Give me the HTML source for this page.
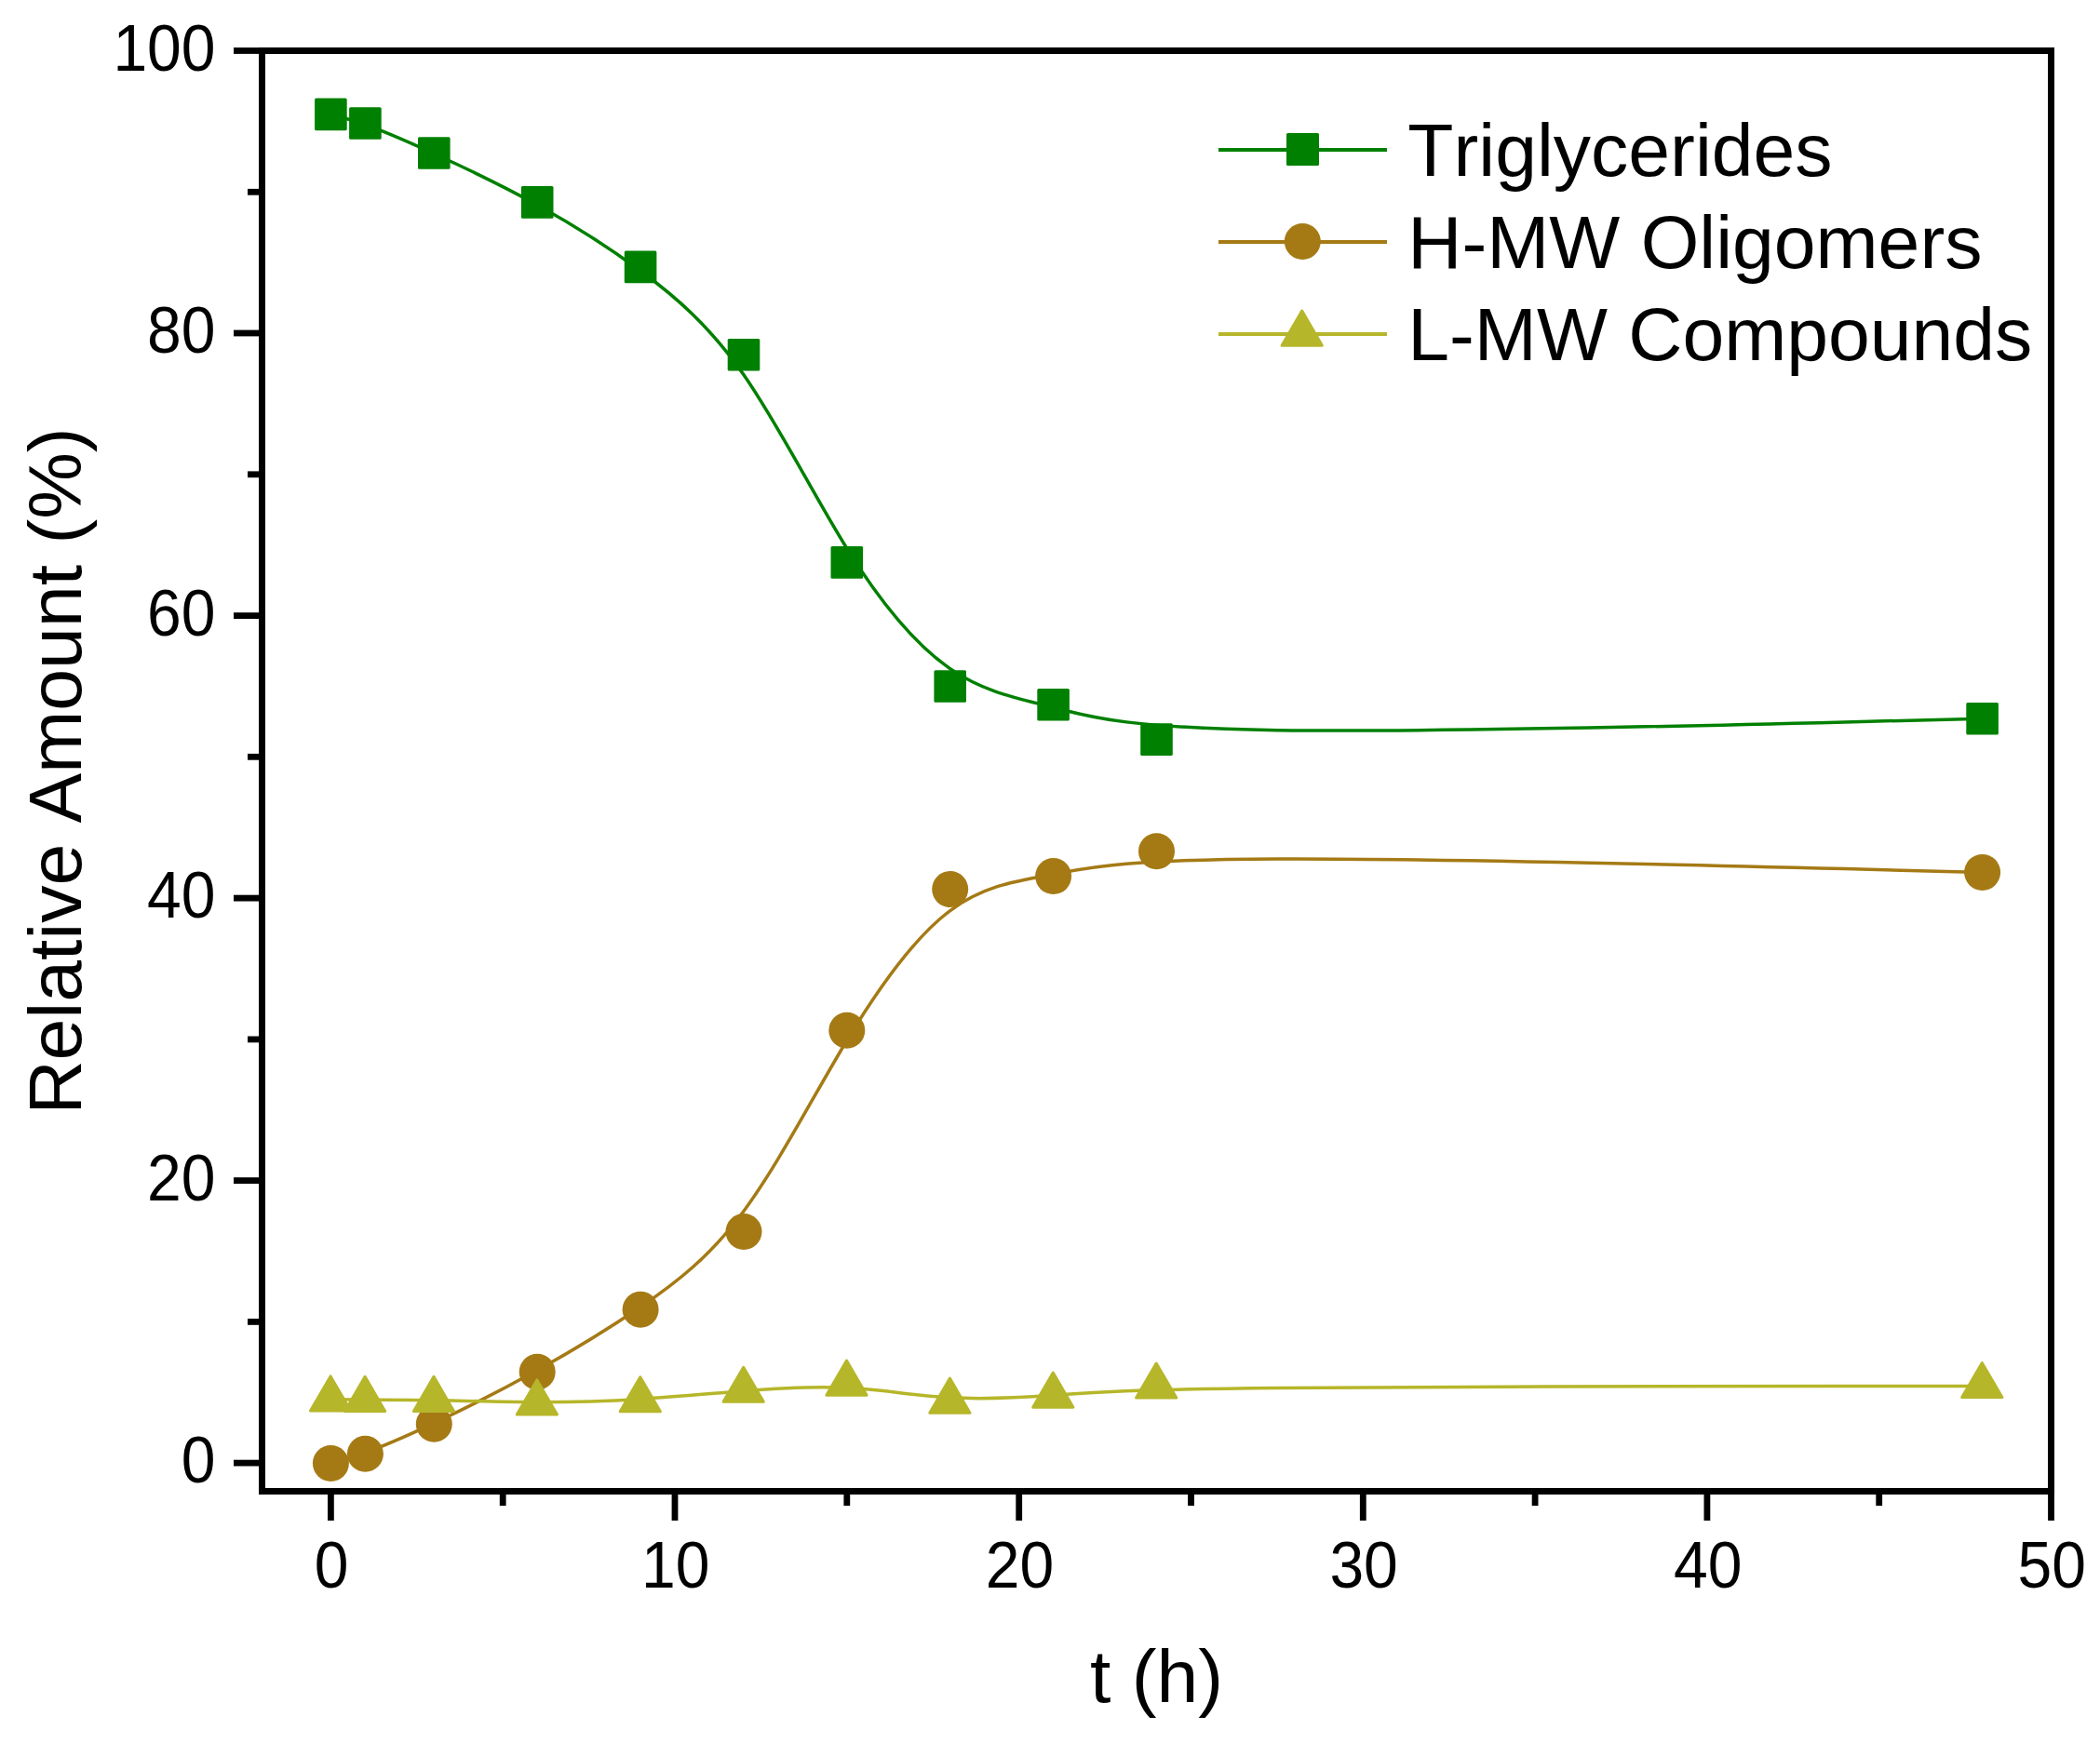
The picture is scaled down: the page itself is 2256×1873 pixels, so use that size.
<!DOCTYPE html>
<html lang="en"><head><meta charset="utf-8"><title>Relative Amount vs t</title>
<style>html,body{margin:0;padding:0;background:#fff}body{width:2256px;height:1873px;overflow:hidden}svg{display:block}text{font-family:"Liberation Sans", Arial, sans-serif;fill:#000;font-kerning:none;letter-spacing:0}</style></head><body>
<svg width="2256" height="1873" viewBox="0 0 2256 1873">
<rect width="2256" height="1873" fill="#fff"/>
<path d="M355.42 122.90 C355.42 122.90 355.42 122.90 361.58 124.50 C367.74 126.10 380.06 129.30 398.54 136.23 C417.03 143.17 441.67 153.83 472.47 167.98 C503.27 182.13 540.23 199.77 577.19 220.17 C614.15 240.57 651.12 263.73 688.08 291.03 C725.04 318.33 762.00 349.77 798.96 402.68 C835.92 455.60 872.88 530.00 909.85 589.38 C946.81 648.77 983.77 693.13 1020.73 718.60 C1057.69 744.07 1094.65 750.63 1131.62 760.15 C1168.58 769.67 1205.54 782.13 1371.87 784.63 C1538.19 787.13 1833.88 779.67 1981.73 775.93 C2129.58 772.20 2129.58 772.20 2129.58 772.20" fill="none" stroke="#008000" stroke-width="3.5" stroke-linecap="round" stroke-linejoin="round"/>
<rect x="338.1" y="105.6" width="34.6" height="34.6" rx="1.5" fill="#008000"/>
<rect x="375.1" y="115.2" width="34.6" height="34.6" rx="1.5" fill="#008000"/>
<rect x="449.0" y="147.2" width="34.6" height="34.6" rx="1.5" fill="#008000"/>
<rect x="559.9" y="200.1" width="34.6" height="34.6" rx="1.5" fill="#008000"/>
<rect x="670.8" y="269.6" width="34.6" height="34.6" rx="1.5" fill="#008000"/>
<rect x="781.7" y="363.9" width="34.6" height="34.6" rx="1.5" fill="#008000"/>
<rect x="892.5" y="587.1" width="34.6" height="34.6" rx="1.5" fill="#008000"/>
<rect x="1003.4" y="720.2" width="34.6" height="34.6" rx="1.5" fill="#008000"/>
<rect x="1114.3" y="739.9" width="34.6" height="34.6" rx="1.5" fill="#008000"/>
<rect x="1225.2" y="777.3" width="34.6" height="34.6" rx="1.5" fill="#008000"/>
<rect x="2112.3" y="754.9" width="34.6" height="34.6" rx="1.5" fill="#008000"/>
<path d="M355.42 1572.50 C355.42 1572.50 355.42 1572.50 361.58 1570.80 C367.74 1569.10 380.06 1565.70 398.54 1558.67 C417.03 1551.63 441.67 1540.97 472.47 1526.30 C503.27 1511.63 540.23 1492.97 577.19 1472.47 C614.15 1451.97 651.12 1429.63 688.08 1404.50 C725.04 1379.37 762.00 1351.43 798.96 1301.42 C835.92 1251.40 872.88 1179.30 909.85 1117.98 C946.81 1056.67 983.77 1006.13 1020.73 978.53 C1057.69 950.93 1094.65 946.27 1131.62 939.45 C1168.58 932.63 1205.54 923.67 1371.87 922.97 C1538.19 922.27 1833.88 929.83 1981.73 933.62 C2129.58 937.40 2129.58 937.40 2129.58 937.40" fill="none" stroke="#a57a15" stroke-width="3.5" stroke-linecap="round" stroke-linejoin="round"/>
<circle cx="355.4" cy="1572.5" r="19.5" fill="#a57a15"/>
<circle cx="392.4" cy="1562.3" r="19.5" fill="#a57a15"/>
<circle cx="466.3" cy="1530.3" r="19.5" fill="#a57a15"/>
<circle cx="577.2" cy="1474.3" r="19.5" fill="#a57a15"/>
<circle cx="688.1" cy="1407.3" r="19.5" fill="#a57a15"/>
<circle cx="799.0" cy="1323.5" r="19.5" fill="#a57a15"/>
<circle cx="909.8" cy="1107.2" r="19.5" fill="#a57a15"/>
<circle cx="1020.7" cy="955.6" r="19.5" fill="#a57a15"/>
<circle cx="1131.6" cy="941.6" r="19.5" fill="#a57a15"/>
<circle cx="1242.5" cy="914.7" r="19.5" fill="#a57a15"/>
<circle cx="2129.6" cy="937.4" r="19.5" fill="#a57a15"/>
<path d="M355.42 1503.80 C355.42 1503.80 355.42 1503.80 361.58 1503.87 C367.74 1503.93 380.06 1504.07 398.54 1504.13 C417.03 1504.20 441.67 1504.20 472.47 1504.80 C503.27 1505.40 540.23 1506.60 577.19 1506.67 C614.15 1506.73 651.12 1505.67 688.08 1503.38 C725.04 1501.10 762.00 1497.60 798.96 1494.67 C835.92 1491.73 872.88 1489.37 909.85 1491.35 C946.81 1493.33 983.77 1499.67 1020.73 1501.83 C1057.69 1504.00 1094.65 1502.00 1131.62 1499.32 C1168.58 1496.63 1205.54 1493.27 1371.87 1491.50 C1538.19 1489.73 1833.88 1489.57 1981.73 1489.48 C2129.58 1489.40 2129.58 1489.40 2129.58 1489.40" fill="none" stroke="#b6b62a" stroke-width="3.5" stroke-linecap="round" stroke-linejoin="round"/>
<path d="M355.1 1478.9 L376.7 1516.0 L333.5 1516.0 Z" fill="#b6b62a" stroke="#b6b62a" stroke-width="3" stroke-linejoin="round"/>
<path d="M392.1 1479.3 L413.7 1516.4 L370.5 1516.4 Z" fill="#b6b62a" stroke="#b6b62a" stroke-width="3" stroke-linejoin="round"/>
<path d="M466.0 1479.3 L487.6 1516.4 L444.4 1516.4 Z" fill="#b6b62a" stroke="#b6b62a" stroke-width="3" stroke-linejoin="round"/>
<path d="M576.9 1482.9 L598.5 1520.0 L555.3 1520.0 Z" fill="#b6b62a" stroke="#b6b62a" stroke-width="3" stroke-linejoin="round"/>
<path d="M687.8 1479.7 L709.4 1516.8 L666.2 1516.8 Z" fill="#b6b62a" stroke="#b6b62a" stroke-width="3" stroke-linejoin="round"/>
<path d="M798.7 1469.2 L820.3 1506.3 L777.1 1506.3 Z" fill="#b6b62a" stroke="#b6b62a" stroke-width="3" stroke-linejoin="round"/>
<path d="M909.5 1462.1 L931.1 1499.2 L887.9 1499.2 Z" fill="#b6b62a" stroke="#b6b62a" stroke-width="3" stroke-linejoin="round"/>
<path d="M1020.4 1481.1 L1042.0 1518.2 L998.8 1518.2 Z" fill="#b6b62a" stroke="#b6b62a" stroke-width="3" stroke-linejoin="round"/>
<path d="M1131.3 1475.1 L1152.9 1512.2 L1109.7 1512.2 Z" fill="#b6b62a" stroke="#b6b62a" stroke-width="3" stroke-linejoin="round"/>
<path d="M1242.2 1465.0 L1263.8 1502.1 L1220.6 1502.1 Z" fill="#b6b62a" stroke="#b6b62a" stroke-width="3" stroke-linejoin="round"/>
<path d="M2129.3 1464.5 L2150.9 1501.6 L2107.7 1501.6 Z" fill="#b6b62a" stroke="#b6b62a" stroke-width="3" stroke-linejoin="round"/>
<g stroke="#000" stroke-width="7" fill="none" stroke-linecap="butt">
<rect x="281.5" y="54.5" width="1922.0" height="1548.0"/>
</g>
<g stroke="#000" stroke-width="6.8" fill="none">
<line x1="355.4" y1="1602.5" x2="355.4" y2="1634.0"/>
<line x1="540.2" y1="1602.5" x2="540.2" y2="1618.0"/>
<line x1="725.0" y1="1602.5" x2="725.0" y2="1634.0"/>
<line x1="909.8" y1="1602.5" x2="909.8" y2="1618.0"/>
<line x1="1094.7" y1="1602.5" x2="1094.7" y2="1634.0"/>
<line x1="1279.5" y1="1602.5" x2="1279.5" y2="1618.0"/>
<line x1="1464.3" y1="1602.5" x2="1464.3" y2="1634.0"/>
<line x1="1649.1" y1="1602.5" x2="1649.1" y2="1618.0"/>
<line x1="1833.9" y1="1602.5" x2="1833.9" y2="1634.0"/>
<line x1="2018.7" y1="1602.5" x2="2018.7" y2="1618.0"/>
<line x1="2203.5" y1="1602.5" x2="2203.5" y2="1634.0"/>
<line x1="281.5" y1="1572.1" x2="251.0" y2="1572.1"/>
<line x1="281.5" y1="1420.4" x2="266.0" y2="1420.4"/>
<line x1="281.5" y1="1268.6" x2="251.0" y2="1268.6"/>
<line x1="281.5" y1="1116.9" x2="266.0" y2="1116.9"/>
<line x1="281.5" y1="965.1" x2="251.0" y2="965.1"/>
<line x1="281.5" y1="813.3" x2="266.0" y2="813.3"/>
<line x1="281.5" y1="661.6" x2="251.0" y2="661.6"/>
<line x1="281.5" y1="509.8" x2="266.0" y2="509.8"/>
<line x1="281.5" y1="358.0" x2="251.0" y2="358.0"/>
<line x1="281.5" y1="206.3" x2="266.0" y2="206.3"/>
<line x1="281.5" y1="54.5" x2="251.0" y2="54.5"/>
</g>
<g font-size="66">
<text transform="translate(356.2,1705.8) scale(1,1.056)" text-anchor="middle">0</text>
<text transform="translate(725.8,1705.8) scale(1,1.056)" text-anchor="middle">10</text>
<text transform="translate(1095.5,1705.8) scale(1,1.056)" text-anchor="middle">20</text>
<text transform="translate(1465.1,1705.8) scale(1,1.056)" text-anchor="middle">30</text>
<text transform="translate(1834.7,1705.8) scale(1,1.056)" text-anchor="middle">40</text>
<text transform="translate(2204.3,1705.8) scale(1,1.056)" text-anchor="middle">50</text>
<text transform="translate(231.5,1593.1) scale(1,1.056)" text-anchor="end">0</text>
<text transform="translate(231.5,1289.6) scale(1,1.056)" text-anchor="end">20</text>
<text transform="translate(231.5,986.1) scale(1,1.056)" text-anchor="end">40</text>
<text transform="translate(231.5,682.6) scale(1,1.056)" text-anchor="end">60</text>
<text transform="translate(231.5,379.0) scale(1,1.056)" text-anchor="end">80</text>
<text transform="translate(231.5,75.5) scale(1,1.056)" text-anchor="end">100</text>
</g>
 <text x="1242.6" y="1829" font-size="80.5" text-anchor="middle">t (h)</text>
<text transform="translate(87,828.5) rotate(-90)" font-size="80.5" text-anchor="middle">Relative Amount (%)</text>
<line x1="1309" y1="161.0" x2="1490" y2="161.0" stroke="#008000" stroke-width="4"/>
<rect x="1382.0" y="142.9" width="35.0" height="35.0" rx="1.5" fill="#008000"/>
<text x="1512.3" y="188.7" font-size="80.5">Triglycerides</text>
<line x1="1309" y1="260.0" x2="1490" y2="260.0" stroke="#a57a15" stroke-width="4"/>
<circle cx="1399.3" cy="259.5" r="19.5" fill="#a57a15"/>
<text x="1512.3" y="288.0" font-size="80.5">H-MW Oligomers</text>
<line x1="1309" y1="359.0" x2="1490" y2="359.0" stroke="#b6b62a" stroke-width="4"/>
<path d="M1398.7 334.1 L1420.3 371.2 L1377.1 371.2 Z" fill="#b6b62a" stroke="#b6b62a" stroke-width="3" stroke-linejoin="round"/>
<text x="1512.3" y="387.2" font-size="80.5">L-MW Compounds</text>
</svg></body></html>
